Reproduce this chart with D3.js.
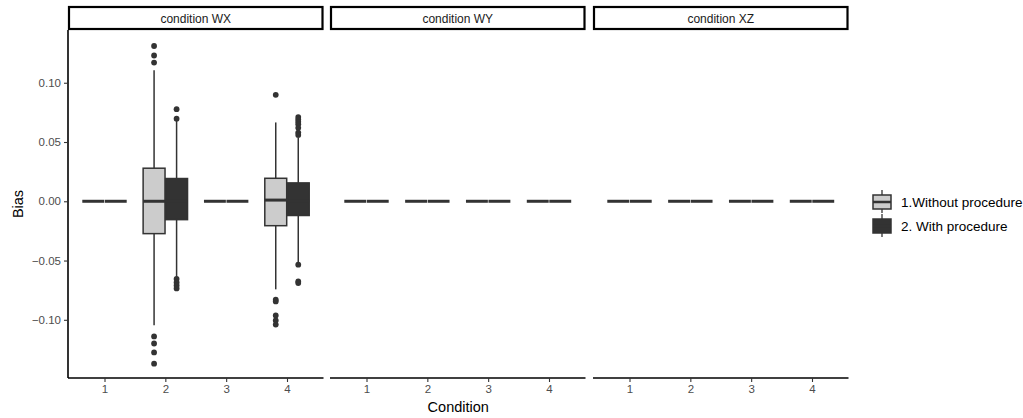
<!DOCTYPE html>
<html>
<head>
<meta charset="utf-8">
<script src="https://cdn.jsdelivr.net/npm/d3@7"></script>
<style>
body { margin: 0; background: #fff; }
text { font-family: "Liberation Sans", Arial, sans-serif; }
</style>
</head>
<body>
<svg width="1023" height="418"></svg>
<script>
// ---------------- data ----------------
const panels = ["condition WX", "condition WY", "condition XZ"];
const conditions = [1, 2, 3, 4];
const groups = ["1.Without procedure", "2. With procedure"];
const yTicks = [-0.10, -0.05, 0.00, 0.05, 0.10];

// box stats: [panel, condition, group, lower, q1, median, q3, upper]
const nonzeroStats = [
  [0, 2, 0, -0.1047, -0.0273, 0.000, 0.0279, 0.1106],
  [0, 2, 1, -0.0640, -0.0155, 0.000, 0.0192, 0.0680],
  [0, 4, 0, -0.0743, -0.0206, 0.001, 0.0194, 0.0665],
  [0, 4, 1, -0.0520, -0.0120, 0.000, 0.0155, 0.0540]
];
// outliers: [panel, condition, group, value]
const outliers = [
  [0, 2, 0, 0.131], [0, 2, 0, 0.123], [0, 2, 0, 0.117],
  [0, 2, 0, -0.114], [0, 2, 0, -0.120], [0, 2, 0, -0.1275], [0, 2, 0, -0.137],
  [0, 2, 1, 0.0777], [0, 2, 1, 0.0697],
  [0, 2, 1, -0.0655], [0, 2, 1, -0.0685], [0, 2, 1, -0.071], [0, 2, 1, -0.0735],
  [0, 4, 0, 0.0898], [0, 4, 0, -0.083], [0, 4, 0, -0.0845],
  [0, 4, 0, -0.0963], [0, 4, 0, -0.1005], [0, 4, 0, -0.104],
  [0, 4, 1, 0.071], [0, 4, 1, 0.069], [0, 4, 1, 0.067], [0, 4, 1, 0.065],
  [0, 4, 1, 0.062], [0, 4, 1, 0.058], [0, 4, 1, 0.056],
  [0, 4, 1, -0.0535], [0, 4, 1, -0.0676], [0, 4, 1, -0.069]
];

// every other box is flat at zero
const stats = [];
panels.forEach((p, pi) => conditions.forEach(c => groups.forEach((g, gi) => {
  const found = nonzeroStats.find(s => s[0] === pi && s[1] === c && s[2] === gi);
  stats.push(found || [pi, c, gi, 0, 0, 0, 0, 0]);
})));

// ---------------- layout ----------------
const svg = d3.select("svg");
const panelLeft = [68, 330, 593];
const panelW = 255.5;
const plotTop = 30, plotBottom = 378;
const fills = ["#cccccc", "#333333"];
const lineCol = "#333333";

const ys = d3.scaleLinear().domain([-0.1491, 0.1445]).range([plotBottom, plotTop]);
const boxW = 0.36, dodge = 0.185;

panels.forEach((p, pi) => {
  const xs = d3.scaleLinear().domain([0.4, 4.6]).range([panelLeft[pi], panelLeft[pi] + panelW]);
  const g = svg.append("g");

  // strip
  g.append("rect")
    .attr("x", panelLeft[pi] + 1).attr("y", 7)
    .attr("width", panelW - 2).attr("height", 22)
    .attr("fill", "#fff").attr("stroke", "#000").attr("stroke-width", 2.2);
  g.append("text")
    .attr("x", panelLeft[pi] + panelW / 2).attr("y", 22.5)
    .attr("text-anchor", "middle").attr("font-size", 12).attr("fill", "#1a1a1a")
    .text(p);

  // x axis
  const ax = g.append("g")
    .attr("transform", "translate(0," + plotBottom + ")")
    .call(d3.axisBottom(xs).tickValues(conditions).tickSize(4).tickPadding(3).tickFormat(d3.format("d")));
  ax.select(".domain").attr("stroke", "#000").attr("stroke-width", 1.6)
    .attr("d", "M" + panelLeft[pi] + ",0H" + (panelLeft[pi] + panelW));
  ax.selectAll(".tick line").attr("stroke", "#333").attr("stroke-width", 1.1);
  ax.selectAll(".tick text").attr("fill", "#4d4d4d").attr("font-size", 11.5)
    .attr("font-family", "Liberation Sans, Arial, sans-serif");

  // boxes
  const bw = xs(boxW) - xs(0);
  stats.filter(s => s[0] === pi).forEach(s => {
    const cx = xs(s[1] + (s[2] === 0 ? -dodge : dodge));
    g.append("line").attr("x1", cx).attr("x2", cx)
      .attr("y1", ys(s[7])).attr("y2", ys(s[6]))
      .attr("stroke", lineCol).attr("stroke-width", 1.5);
    g.append("line").attr("x1", cx).attr("x2", cx)
      .attr("y1", ys(s[4])).attr("y2", ys(s[3]))
      .attr("stroke", lineCol).attr("stroke-width", 1.5);
    g.append("rect")
      .attr("x", cx - bw / 2).attr("y", ys(s[6]))
      .attr("width", bw).attr("height", ys(s[4]) - ys(s[6]))
      .attr("fill", fills[s[2]]).attr("stroke", lineCol).attr("stroke-width", 1.5);
    g.append("line").attr("x1", cx - bw / 2).attr("x2", cx + bw / 2)
      .attr("y1", ys(s[5])).attr("y2", ys(s[5]))
      .attr("stroke", lineCol).attr("stroke-width", 3);
  });

  outliers.filter(o => o[0] === pi).forEach(o => {
    g.append("circle")
      .attr("cx", xs(o[1] + (o[2] === 0 ? -dodge : dodge)))
      .attr("cy", ys(o[3])).attr("r", 2.9).attr("fill", "#333");
  });

  // y axis, first panel only
  if (pi === 0) {
    const ay = g.append("g")
      .attr("transform", "translate(" + panelLeft[0] + ",0)")
      .call(d3.axisLeft(ys).tickValues(yTicks).tickSize(4).tickPadding(3).tickFormat(d3.format(".2f")));
    ay.select(".domain").attr("stroke", "#000").attr("stroke-width", 1.6)
      .attr("d", "M0," + plotTop + "V" + plotBottom);
    ay.selectAll(".tick line").attr("stroke", "#333").attr("stroke-width", 1.1);
    ay.selectAll(".tick text").attr("fill", "#4d4d4d").attr("font-size", 11.5)
      .attr("font-family", "Liberation Sans, Arial, sans-serif")
      .text(d => d3.format(".2f")(d).replace("-", "\u2212"));
  }
});

// axis titles
svg.append("text")
  .attr("transform", "translate(23,204) rotate(-90)")
  .attr("text-anchor", "middle").attr("font-size", 14.5).attr("fill", "#000")
  .text("Bias");
svg.append("text")
  .attr("x", (panelLeft[0] + panelLeft[2] + panelW) / 2).attr("y", 412)
  .attr("text-anchor", "middle").attr("font-size", 14.5).attr("fill", "#000")
  .text("Condition");

// legend
const lg = svg.append("g");
groups.forEach((name, i) => {
  const ky = 193 + i * 24;
  const kx = 873;
  lg.append("line").attr("x1", kx + 9).attr("x2", kx + 9)
    .attr("y1", ky - 3).attr("y2", ky + 20)
    .attr("stroke", lineCol).attr("stroke-width", 1.3);
  lg.append("rect").attr("x", kx).attr("y", ky + 2)
    .attr("width", 18).attr("height", 14)
    .attr("fill", fills[i]).attr("stroke", lineCol).attr("stroke-width", 1.5);
  lg.append("line").attr("x1", kx).attr("x2", kx + 18)
    .attr("y1", ky + 9).attr("y2", ky + 9)
    .attr("stroke", lineCol).attr("stroke-width", 2.5);
  lg.append("text").attr("x", 901).attr("y", ky + 14)
    .attr("font-size", 13.5).attr("fill", "#000").text(name);
});
</script>
</body>
</html>
